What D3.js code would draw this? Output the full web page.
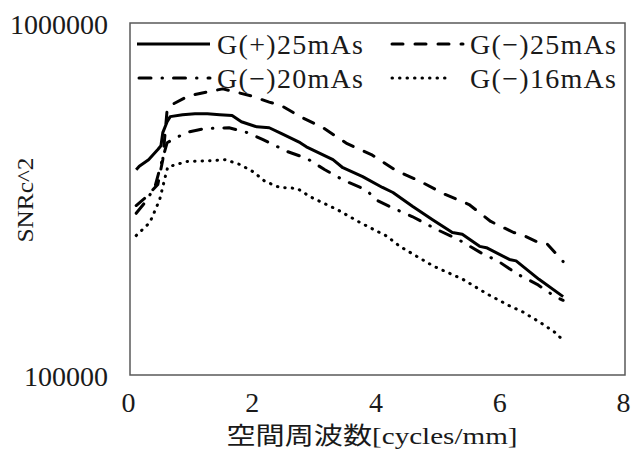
<!DOCTYPE html>
<html>
<head>
<meta charset="utf-8">
<script src="https://cdn.jsdelivr.net/npm/d3@7"></script>
<style>
  body { margin: 0; background: #fff; }
</style>
</head>
<body>
<div id="chart"></div>
<script>
// data: [cycles/mm, SNRc^2]
const gPlus25 = [
  [0.1, 383000], [0.15, 392000], [0.3, 409000], [0.45, 437000], [0.5, 448000],
  [0.53, 488000], [0.6, 524000], [0.65, 542000], [0.85, 549000], [1.05, 552000],
  [1.25, 552000], [1.45, 549000], [1.65, 546000], [1.8, 524000], [2.05, 507000],
  [2.25, 504000], [2.45, 485000], [2.75, 457000], [2.85, 445000], [3.28, 409000],
  [3.44, 388000], [3.76, 366000], [4.08, 341000], [4.25, 330000], [4.57, 301000],
  [4.89, 276000], [5.21, 254000], [5.37, 251000], [5.65, 232000], [5.76, 230000],
  [6.13, 213000], [6.24, 211000], [6.61, 187000], [7.0, 167000]
];
const gMinus25 = [
  [0.1, 303000], [0.25, 319000], [0.45, 348000], [0.53, 409000], [0.6, 567000],
  [0.7, 589000], [0.95, 621000], [1.25, 637000], [1.5, 650000], [1.75, 634000],
  [1.95, 621000], [2.25, 596000], [2.45, 582000], [2.75, 542000], [3.12, 504000],
  [3.51, 454000], [3.9, 423000], [4.3, 381000], [4.69, 355000], [5.09, 326000],
  [5.48, 305000], [5.83, 273000], [6.2, 254000], [6.3, 252000], [6.6, 238000],
  [6.75, 235000], [7.0, 210000]
];
const gMinus20 = [
  [0.1, 288000], [0.24, 309000], [0.4, 341000], [0.5, 396000], [0.6, 457000],
  [0.9, 488000], [1.2, 501000], [1.6, 504000], [1.9, 488000], [2.15, 466000],
  [2.55, 431000], [2.86, 412000], [3.15, 383000], [3.46, 357000], [3.81, 336000],
  [4.0, 313000], [4.25, 298000], [4.56, 282000], [4.96, 259000], [5.3, 243000],
  [5.66, 223000], [5.96, 210000], [6.27, 193000], [6.58, 181000], [6.87, 167000],
  [7.0, 163000]
];
const gMinus16 = [
  [0.1, 249000], [0.32, 271000], [0.48, 315000], [0.57, 366000], [0.61, 390000],
  [0.92, 404000], [1.29, 406000], [1.54, 409000], [1.78, 396000], [1.99, 378000],
  [2.18, 355000], [2.42, 341000], [2.7, 339000], [2.91, 321000], [3.35, 295000],
  [3.72, 271000], [4.15, 248000], [4.36, 232000], [4.9, 204000], [5.38, 187000],
  [5.77, 170000], [6.14, 157000], [6.35, 151000], [6.63, 141000], [6.9, 131000],
  [7.0, 125000]
];
const seriesNames = ["G(+)25mAs", "G(−)25mAs", "G(−)20mAs", "G(−)16mAs"];
const xTicks = [0, 2, 4, 6, 8];
const yTicks = [100000, 1000000];

const width = 638,
  height = 452,
  margin = { top: 23, right: 13, bottom: 77, left: 130 };

const serif = "'Liberation Serif', 'DejaVu Serif', serif";
const cjk = "'Liberation Serif', 'Noto Sans CJK JP', serif";

const svg = d3.select("#chart")
  .append("svg")
  .attr("width", width)
  .attr("height", height);

const xScale = d3.scaleLinear()
  .domain([0, 8])
  .range([margin.left, width - margin.right]);

const yScale = d3.scaleLog()
  .domain([100000, 1000000])
  .range([height - margin.bottom, margin.top]);

// line styles, same order as the names
const styles = [
  { dash: null, cap: "butt" },
  { dash: "11,12", cap: "round" },
  { dash: "12,11,0.5,11", cap: "round" },
  { dash: "0.5,7", cap: "round" }
];

// axes without lines, only labels
const xAxis = d3.axisBottom(xScale).tickValues(xTicks).tickSize(0).tickPadding(22)
  .tickFormat(d3.format("d"));
const yAxis = d3.axisLeft(yScale).tickValues(yTicks).tickSize(0).tickPadding(22)
  .tickFormat(d3.format("d"));

svg.append("g")
  .attr("class", "axis x-axis")
  .attr("transform", `translate(-2,${height - margin.bottom})`)
  .call(xAxis)
  .call(g => g.select(".domain").remove())
  .attr("font-family", serif)
  .attr("font-size", 28)
  .selectAll("text")
  .attr("fill", "#1a1a1a")
  .attr("dy", "0.55em");

svg.append("g")
  .attr("class", "axis y-axis")
  .attr("transform", `translate(${margin.left},2)`)
  .call(yAxis)
  .call(g => g.select(".domain").remove())
  .attr("font-family", serif)
  .attr("font-size", 28)
  .selectAll("text")
  .attr("fill", "#1a1a1a");

// plot border
svg.append("rect")
  .attr("x", margin.left)
  .attr("y", margin.top)
  .attr("width", width - margin.left - margin.right)
  .attr("height", height - margin.top - margin.bottom)
  .attr("fill", "none")
  .attr("stroke", "#595959")
  .attr("stroke-width", 1.5);

const line = d3.line()
  .x(d => xScale(d[0]))
  .y(d => yScale(d[1]));

[gPlus25, gMinus25, gMinus20, gMinus16].forEach((data, i) => {
  svg.append("path")
    .datum(data)
    .attr("fill", "none")
    .attr("stroke", "#000")
    .attr("stroke-width", 3)
    .attr("stroke-linejoin", "round")
    .attr("stroke-linecap", styles[i].cap)
    .attr("stroke-dasharray", styles[i].dash)
    .attr("d", line);
});

// legend in two rows and two columns
const legendPos = [
  { x: 137, y: 44 },
  { x: 390, y: 44 },
  { x: 137, y: 78 },
  { x: 390, y: 78 }
];

seriesNames.forEach((name, i) => {
  const p = legendPos[i];
  const len = i === 3 ? 60 : 73;
  svg.append("line")
    .attr("x1", p.x + (styles[i].cap === "round" ? 2 : 0))
    .attr("x2", p.x + len)
    .attr("y1", p.y)
    .attr("y2", p.y)
    .attr("stroke", "#000")
    .attr("stroke-width", 3)
    .attr("stroke-linecap", styles[i].cap)
    .attr("stroke-dasharray", styles[i].dash);
  svg.append("text")
    .attr("x", p.x + 80)
    .attr("y", p.y + 10)
    .attr("font-family", serif)
    .attr("font-size", 28)
    .attr("fill", "#1a1a1a")
    .attr("textLength", 146)
    .attr("lengthAdjust", "spacing")
    .text(name);
});

// axis titles
svg.append("text")
  .attr("x", 372)
  .attr("y", 444)
  .attr("text-anchor", "middle")
  .attr("font-family", cjk)
  .attr("font-size", 24)
  .attr("fill", "#1a1a1a")
  .attr("textLength", 291)
  .attr("lengthAdjust", "spacingAndGlyphs")
  .text("空間周波数[cycles/mm]");

svg.append("text")
  .attr("transform", "translate(33,200) rotate(-90)")
  .attr("text-anchor", "middle")
  .attr("font-family", serif)
  .attr("font-size", 24)
  .attr("fill", "#1a1a1a")
  .attr("textLength", 85)
  .attr("lengthAdjust", "spacingAndGlyphs")
  .text("SNRc^2");
</script>
</body>
</html>
